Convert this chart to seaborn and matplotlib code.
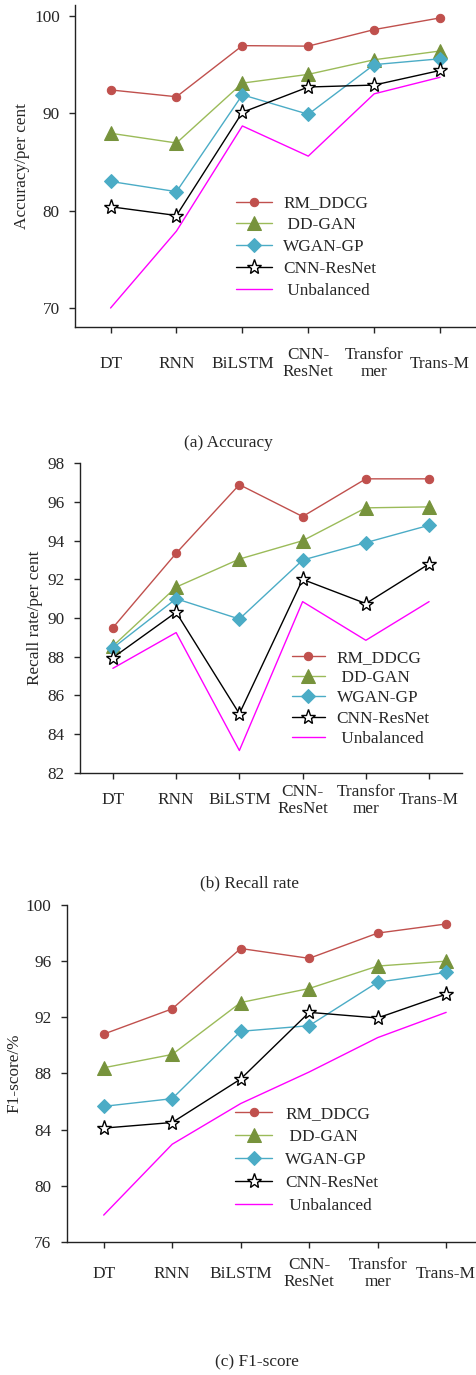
import numpy as np
import pandas as pd
import matplotlib
matplotlib.use("Agg")
import matplotlib.pyplot as plt
import seaborn as sns

MODELS = ["DT", "RNN", "BiLSTM", "CNN-\nResNet", "Transfor\nmer", "Trans-M"]
SERIES = ["RM_DDCG", "DD-GAN", "WGAN-GP", "CNN-ResNet", "Unbalanced"]

# values
acc_rm = [92.4, 91.7, 96.95, 96.9, 98.6, 99.8]
acc_dd = [87.95, 86.95, 93.1, 94.0, 95.5, 96.4]
acc_wg = [83.0, 81.95, 91.9, 89.9, 95.0, 95.6]
acc_cnn = [80.4, 79.5, 90.1, 92.7, 92.9, 94.4]
acc_unb = [70.0, 77.9, 88.7, 85.6, 92.0, 93.7]

rec_rm = [89.5, 93.35, 96.9, 95.25, 97.2, 97.2]
rec_dd = [88.55, 91.6, 93.05, 94.0, 95.7, 95.75]
rec_wg = [88.45, 91.0, 89.95, 93.0, 93.9, 94.8]
rec_cnn = [87.95, 90.3, 85.05, 92.0, 90.75, 92.8]
rec_unb = [87.4, 89.25, 83.15, 90.85, 88.85, 90.85]

f1_rm = [90.8, 92.6, 96.9, 96.2, 98.0, 98.65]
f1_dd = [88.4, 89.35, 93.05, 94.05, 95.65, 96.0]
f1_wg = [85.65, 86.2, 91.0, 91.4, 94.5, 95.2]
f1_cnn = [84.1, 84.5, 87.6, 92.35, 91.95, 93.65]
f1_unb = [77.9, 82.95, 85.85, 88.1, 90.55, 92.35]

STYLES = {
    "RM_DDCG": dict(color="#C0504D", marker="o", markersize=6,
                    markerfacecolor="#C0504D", markeredgecolor="#C0504D"),
    "DD-GAN": dict(color="#9BBB59", marker="^", markersize=9.5,
                   markerfacecolor="#77933C", markeredgecolor="#77933C"),
    "WGAN-GP": dict(color="#4BACC6", marker="D", markersize=7,
                    markerfacecolor="#4BACC6", markeredgecolor="#4BACC6"),
    "CNN-ResNet": dict(color="black", marker="*", markersize=11,
                       markerfacecolor="white", markeredgecolor="black",
                       markeredgewidth=1.0),
    "Unbalanced": dict(color="#FF00FF"),
}
LEGEND_NAMES = ["RM_DDCG", " DD-GAN", "WGAN-GP", "CNN-ResNet", " Unbalanced"]

FS = 12.4

sns.set_style("ticks")
plt.rcParams["font.family"] = ["Liberation Serif", "DejaVu Serif"]
plt.rcParams["font.size"] = FS

fig = plt.figure(figsize=(4.77, 13.75), dpi=100)

panels = [
    dict(rect=[0.1572, 0.7622, 0.8386, 0.2342],
         data=[acc_rm, acc_dd, acc_wg, acc_cnn, acc_unb],
         ylim=(68.05, 101.13), yticks=[70, 80, 90, 100], xlim=(-0.54, 5.53),
         ylabel="Accuracy/per cent", ylab_x=-0.1125, xpad=22.3,
         leg=(0.495, 0.8578, 0.33, 2.1, 0.64),
         caption="(a) Accuracy", cap=(228, 443)),
    dict(rect=[0.1677, 0.4380, 0.8008, 0.2250],
         data=[rec_rm, rec_dd, rec_wg, rec_cnn, rec_unb],
         ylim=(82, 98), yticks=list(range(82, 99, 2)), xlim=(-0.52, 5.52),
         ylabel="Recall rate/per cent", ylab_x=-0.097, xpad=15.8,
         leg=(0.612, 0.5275, 0.25, 1.9, 0.7),
         caption="(b) Recall rate", cap=(250, 883)),
    dict(rect=[0.1398, 0.0969, 0.8602, 0.2449],
         data=[f1_rm, f1_dd, f1_wg, f1_cnn, f1_unb],
         ylim=(76, 100), yticks=list(range(76, 101, 4)), xlim=(-0.54, 5.45),
         ylabel="F1-score/%", ylab_x=-0.109, xpad=19.0,
         leg=(0.493, 0.1958, 0.4, 2.15, 0.75),
         caption="(c) F1-score", cap=(257, 1362)),
]

x = np.arange(len(MODELS))

for p in panels:
    ax = fig.add_axes(p["rect"])
    for name, vals in zip(SERIES, p["data"]):
        df = pd.DataFrame({"pos": x, "value": vals})
        sns.lineplot(data=df, x="pos", y="value", ax=ax, linewidth=1.0,
                     label=name, clip_on=False, **STYLES[name])

    ax.set_xlim(*p["xlim"])
    ax.set_ylim(*p["ylim"])
    ax.set_yticks(p["yticks"])
    ax.set_xticks(x)
    ax.set_xticklabels(MODELS, va="center", ha="center",
                       multialignment="center", linespacing=1.05)
    ax.tick_params(axis="x", direction="out", length=4, width=1,
                   pad=p["xpad"], labelsize=FS)
    ax.tick_params(axis="y", direction="out", length=4, width=1,
                   pad=7, labelsize=FS)
    sns.despine(ax=ax)
    for s in ["left", "bottom"]:
        ax.spines[s].set_linewidth(1.0)
        ax.spines[s].set_color("#222222")

    ax.set_xlabel("")
    ax.set_ylabel(p["ylabel"], fontsize=FS)
    ax.yaxis.set_label_coords(p["ylab_x"], 0.5)

    lx, ly, lsp, hl, htp = p["leg"]
    handles, _ = ax.get_legend_handles_labels()
    ax.legend(handles, LEGEND_NAMES, loc="upper left",
              bbox_to_anchor=(lx, ly), bbox_transform=fig.transFigure,
              frameon=False, borderpad=0, borderaxespad=0,
              labelspacing=lsp, handlelength=hl, handletextpad=htp,
              fontsize=FS)

    cx, cy = p["cap"]
    fig.text(cx / 477, 1 - cy / 1375, p["caption"], ha="center",
             va="center", fontsize=FS)

fig.savefig("out.png", dpi=100)
